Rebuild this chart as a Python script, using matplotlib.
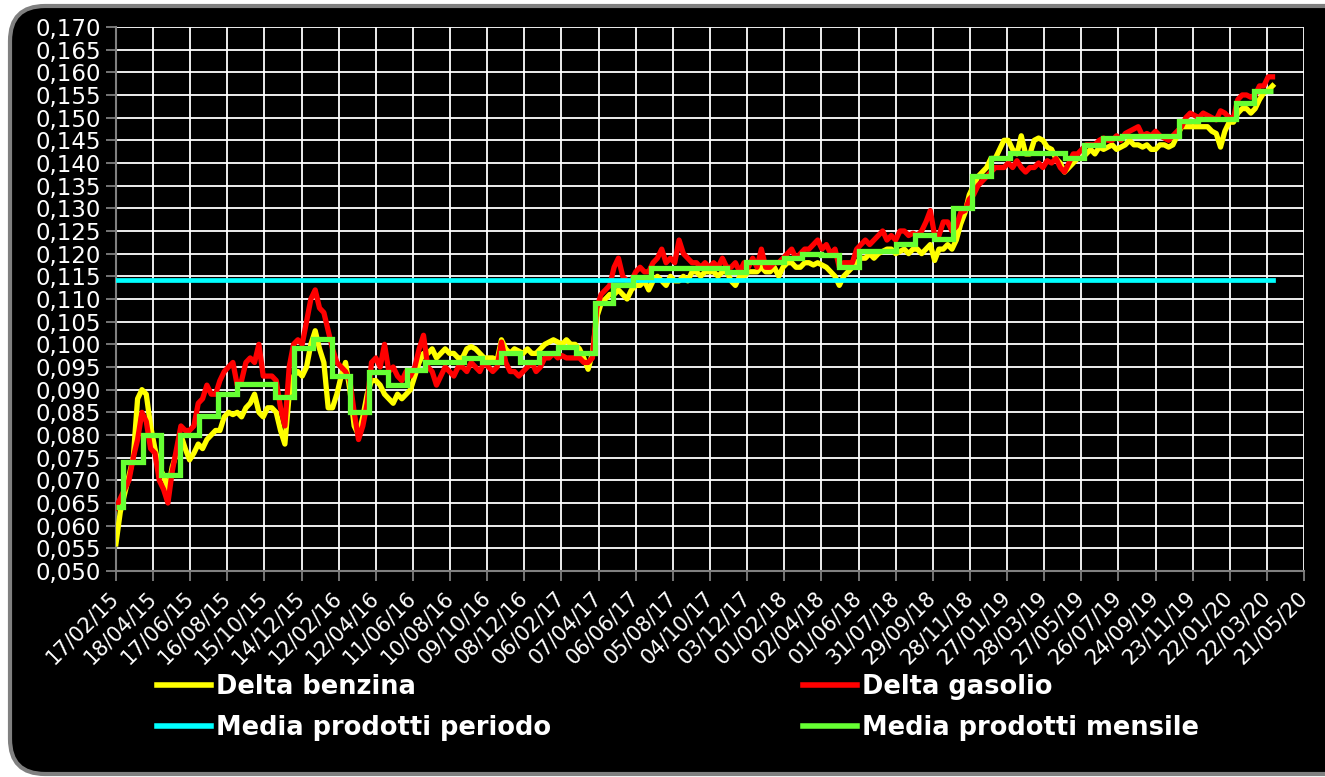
import matplotlib
matplotlib.use('Agg')
import matplotlib.pyplot as plt
import matplotlib.dates as mdates
from matplotlib.patches import FancyBboxPatch
import numpy as np
import pandas as pd

# valori settimanali (dal 17/02/2015)
benzina = [
    0.056, 0.063, 0.067, 0.071, 0.075, 0.088, 0.090, 0.089, 0.082, 0.077,
    0.073, 0.071, 0.068, 0.073, 0.076, 0.080, 0.077, 0.0745, 0.076, 0.078,
    0.077, 0.079, 0.080, 0.081, 0.081, 0.084, 0.085, 0.0845, 0.085, 0.084,
    0.086, 0.087, 0.089, 0.085, 0.084, 0.086, 0.086, 0.085, 0.081, 0.078,
    0.089, 0.093, 0.094, 0.093, 0.095, 0.100, 0.103, 0.099, 0.096, 0.086,
    0.086, 0.089, 0.093, 0.096, 0.090, 0.082, 0.080, 0.084, 0.089, 0.092,
    0.092, 0.091, 0.089, 0.088, 0.087, 0.089, 0.088, 0.089, 0.090, 0.093,
    0.096, 0.098, 0.098, 0.099, 0.097, 0.098, 0.099, 0.098, 0.098, 0.097,
    0.097, 0.099, 0.0995, 0.099, 0.098, 0.097, 0.097, 0.097, 0.0965, 0.101,
    0.099, 0.098, 0.099, 0.0985, 0.098, 0.099, 0.098, 0.098, 0.099, 0.100,
    0.1005, 0.101, 0.1005, 0.100, 0.101, 0.100, 0.100, 0.099, 0.097, 0.0945,
    0.098, 0.106, 0.109, 0.110, 0.111, 0.111, 0.112, 0.111, 0.110, 0.112,
    0.113, 0.113, 0.114, 0.112, 0.114, 0.115, 0.114, 0.113, 0.115, 0.114,
    0.114, 0.115, 0.114, 0.116, 0.116, 0.115, 0.116, 0.116, 0.116, 0.115,
    0.116, 0.116, 0.114, 0.113, 0.115, 0.115, 0.116, 0.116, 0.116, 0.117,
    0.116, 0.116, 0.117, 0.115, 0.117, 0.118, 0.118, 0.117, 0.117, 0.118,
    0.118, 0.1175, 0.118, 0.1175, 0.117, 0.116, 0.115, 0.113, 0.115, 0.116,
    0.117, 0.118, 0.119, 0.119, 0.120, 0.119, 0.120, 0.1205, 0.121, 0.121,
    0.120, 0.1205, 0.121, 0.120, 0.121, 0.121, 0.120, 0.121, 0.122, 0.1185,
    0.121, 0.121, 0.122, 0.121, 0.123, 0.1265, 0.129, 0.133, 0.135, 0.137,
    0.138, 0.139, 0.141, 0.141, 0.143, 0.145, 0.145, 0.143, 0.142, 0.146,
    0.142, 0.142, 0.145, 0.1455, 0.145, 0.1435, 0.143, 0.141, 0.140, 0.138,
    0.139, 0.140, 0.141, 0.141, 0.142, 0.143, 0.142, 0.1435, 0.143, 0.1435,
    0.144, 0.143, 0.1435, 0.144, 0.145, 0.144, 0.144, 0.1435, 0.144, 0.143,
    0.143, 0.144, 0.144, 0.1435, 0.144, 0.146, 0.148, 0.148, 0.148, 0.148,
    0.148, 0.148, 0.148, 0.147, 0.1465, 0.1435, 0.147, 0.149, 0.149, 0.151,
    0.152, 0.152, 0.151, 0.152, 0.154, 0.1555, 0.156, 0.157,
]

gasolio = [
    0.064, 0.066, 0.068, 0.070, 0.075, 0.079, 0.085, 0.083, 0.077, 0.076,
    0.070, 0.068, 0.065, 0.072, 0.077, 0.082, 0.081, 0.081, 0.082, 0.087,
    0.088, 0.091, 0.089, 0.089, 0.092, 0.094, 0.095, 0.096, 0.091, 0.092,
    0.096, 0.097, 0.096, 0.100, 0.093, 0.093, 0.093, 0.092, 0.086, 0.082,
    0.095, 0.100, 0.101, 0.100, 0.105, 0.110, 0.112, 0.108, 0.107, 0.103,
    0.099, 0.096, 0.095, 0.094, 0.092, 0.085, 0.079, 0.082, 0.087, 0.096,
    0.097, 0.095, 0.100, 0.094, 0.095, 0.093, 0.092, 0.094, 0.093, 0.095,
    0.099, 0.102, 0.095, 0.094, 0.091, 0.093, 0.095, 0.094, 0.093, 0.095,
    0.095, 0.094, 0.096, 0.095, 0.094, 0.096, 0.095, 0.094, 0.095, 0.1005,
    0.096, 0.094, 0.094, 0.093, 0.094, 0.095, 0.096, 0.094, 0.095, 0.097,
    0.097, 0.098, 0.097, 0.0975, 0.097, 0.097, 0.097, 0.097, 0.096, 0.096,
    0.097, 0.108, 0.111, 0.112, 0.113, 0.117, 0.119, 0.115, 0.114, 0.114,
    0.116, 0.117, 0.116, 0.116, 0.118, 0.119, 0.121, 0.118, 0.119, 0.118,
    0.123, 0.120, 0.119, 0.118, 0.118, 0.117, 0.118, 0.117, 0.118, 0.117,
    0.119, 0.117, 0.117, 0.118, 0.116, 0.118, 0.117, 0.119, 0.117, 0.121,
    0.117, 0.117, 0.118, 0.118, 0.119, 0.120, 0.121, 0.119, 0.120, 0.121,
    0.121, 0.122, 0.123, 0.121, 0.122, 0.120, 0.121, 0.117, 0.118, 0.118,
    0.118, 0.121, 0.122, 0.123, 0.122, 0.123, 0.124, 0.125, 0.123, 0.124,
    0.123, 0.125, 0.125, 0.124, 0.1245, 0.124, 0.125, 0.127, 0.1295, 0.124,
    0.124, 0.127, 0.127, 0.125, 0.126, 0.129, 0.1295, 0.132, 0.133, 0.135,
    0.136, 0.137, 0.138, 0.139, 0.139, 0.139, 0.140, 0.139, 0.1405, 0.139,
    0.138, 0.139, 0.139, 0.140, 0.139, 0.1405, 0.140, 0.141, 0.139, 0.138,
    0.140, 0.142, 0.142, 0.143, 0.144, 0.144, 0.144, 0.145, 0.1455, 0.145,
    0.145, 0.146, 0.145, 0.1465, 0.147, 0.1475, 0.148, 0.146, 0.1465, 0.146,
    0.147, 0.146, 0.1455, 0.145, 0.146, 0.147, 0.148, 0.150, 0.151, 0.1505,
    0.150, 0.151, 0.1505, 0.150, 0.1495, 0.1515, 0.151, 0.150, 0.150, 0.154,
    0.155, 0.155, 0.1545, 0.155, 0.157, 0.157, 0.159, 0.159,
]

# media mensile feb 2015 - mar 2020
media_mensile = [
    0.0641, 0.0741, 0.0800, 0.0711, 0.0800, 0.0843, 0.0891, 0.0912, 0.0912, 0.0883, 0.0993,
    0.1011, 0.0930, 0.0850, 0.0940, 0.0910, 0.0943, 0.0960, 0.0960, 0.0970, 0.0960, 0.0980, 0.0962,
    0.0980, 0.0994, 0.0980, 0.1092, 0.1130, 0.1148, 0.1168, 0.1168, 0.1168, 0.1168, 0.1160, 0.1181,
    0.1181, 0.1191, 0.1200, 0.1196, 0.1171, 0.1205, 0.1205, 0.1222, 0.1241, 0.1232, 0.1300, 0.1371,
    0.1411, 0.1421, 0.1421, 0.1421, 0.1410, 0.1440, 0.1454, 0.1460, 0.1460, 0.1460, 0.1492, 0.1498,
    0.1498, 0.1532, 0.1559,
]
media_periodo = 0.1142

inizio = pd.Timestamp('2015-02-17')
fine_dati = pd.Timestamp('2020-03-31')
fine_asse = pd.Timestamp('2020-05-21')

giorni = pd.date_range(inizio, periods=len(benzina), freq='7D')
mesi = [inizio] + list(pd.date_range('2015-03-01', '2020-03-01', freq='MS')) + [fine_dati]

fig = plt.figure(figsize=(13.25, 7.77), dpi=100)
fig.patch.set_facecolor('white')
sfondo = FancyBboxPatch((0.10, 0.03), 13.5, 7.68, boxstyle='round,pad=0,rounding_size=0.35',
                        transform=fig.dpi_scale_trans, facecolor='black',
                        edgecolor='#808080', linewidth=3, zorder=0)
fig.patches.append(sfondo)

ax = fig.add_axes([0.0875, 0.2651, 0.8967, 0.7002])
ax.set_zorder(2)
ax.set_facecolor('black')

l1, = ax.plot(giorni, benzina, color='#FFFF00', lw=3.8, label='Delta benzina', zorder=3)
l2, = ax.plot(giorni, gasolio, color='#FF0000', lw=3.8, label='Delta gasolio', zorder=4)
l3, = ax.plot([inizio, fine_dati], [media_periodo, media_periodo], color='#00FFFF', lw=3.4,
              label='Media prodotti periodo', zorder=5)
l4 = ax.stairs(media_mensile, mdates.date2num(mesi), baseline=None, color='#66FF33', lw=3.8,
               label='Media prodotti mensile', zorder=6)

ax.set_xlim(inizio, fine_asse)
ax.set_ylim(0.05, 0.17)

xt = pd.date_range(inizio, fine_asse, freq='60D')
ax.set_xticks(xt)
ax.set_xticklabels([d.strftime('%d/%m/%y') for d in xt], rotation=45, ha='right',
                   va='center', rotation_mode='anchor', fontsize=15)
yt = np.round(np.arange(0.050, 0.1701, 0.005), 3)
ax.set_yticks(yt)
ax.set_yticklabels([f'{v:.3f}'.replace('.', ',') for v in yt], fontsize=16.5)

ax.grid(True, color='white', lw=1.3)
ax.set_axisbelow(True)
ax.tick_params(color='#808080', labelcolor='white', length=7, width=1.3, pad=4)
ax.tick_params(axis='x', pad=10)
for s in ['top', 'right']:
    ax.spines[s].set_visible(False)
for s in ['left', 'bottom']:
    ax.spines[s].set_color('#808080')
    ax.spines[s].set_linewidth(1.5)

leg = fig.legend([l1, l3, l2, l4], [l1.get_label(), l3.get_label(), l2.get_label(), l4.get_label()],
                 loc='center', bbox_to_anchor=(0.5115, 0.0895), ncol=2, frameon=False,
                 prop={'weight': 'bold', 'size': 18.5}, labelcolor='white',
                 handlelength=2.1, handletextpad=0.2, columnspacing=9.8, labelspacing=0.6)
leg.set_zorder(3)
for h in leg.legend_handles:
    h.set_linewidth(4)

fig.savefig('out.png', dpi=100, facecolor=fig.get_facecolor())
